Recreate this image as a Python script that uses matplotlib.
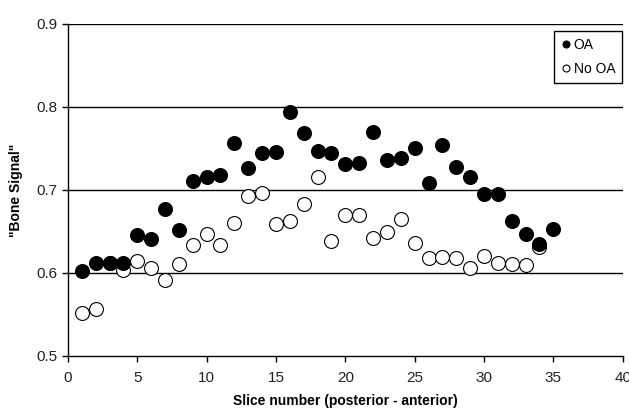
import numpy as np
import matplotlib.pyplot as plt

plt.rcParams['font.family'] = ['Liberation Sans', 'DejaVu Sans']

# slice numbers and bone signal
slice_oa = list(range(1, 36))
oa = [0.602, 0.612, 0.612, 0.612, 0.646, 0.641, 0.677, 0.652, 0.711, 0.715,
      0.718, 0.756, 0.727, 0.744, 0.746, 0.794, 0.769, 0.747, 0.744, 0.731,
      0.732, 0.770, 0.736, 0.738, 0.750, 0.708, 0.754, 0.728, 0.715, 0.695,
      0.695, 0.663, 0.647, 0.635, 0.653]

slice_no = list(range(1, 35))
no_oa = [0.552, 0.556, 0.612, 0.604, 0.614, 0.606, 0.591, 0.611, 0.634, 0.647,
         0.634, 0.660, 0.693, 0.696, 0.659, 0.663, 0.683, 0.716, 0.639, 0.670,
         0.670, 0.642, 0.649, 0.665, 0.636, 0.618, 0.619, 0.618, 0.606, 0.621,
         0.612, 0.611, 0.610, 0.631]

xticks = [0, 5, 10, 15, 20, 25, 30, 35, 40]
yticks = [0.5, 0.6, 0.7, 0.8, 0.9]

fig = plt.figure(figsize=(6.29, 4.12), dpi=100)
ax = fig.add_axes([0.108, 0.136, 0.882, 0.806])

for y in yticks[1:]:
    ax.axhline(y, color='black', lw=1.0, zorder=1)

ax.plot(slice_no, no_oa, 'o', ms=10, mfc='white', mec='black', mew=0.8,
        label='No OA', zorder=2)
ax.plot(slice_oa, oa, 'o', ms=10, mfc='black', mec='black', mew=0.8,
        label='OA', zorder=3)

ax.set_xlim(0, 40)
ax.set_ylim(0.5, 0.9)
ax.set_xticks(xticks)
ax.set_yticks(yticks)
ax.set_yticklabels(['%.1f' % v for v in yticks])
ax.tick_params(axis='both', labelsize=11, direction='out', length=4, width=1,
               colors='black', labelcolor='#222222')
ax.tick_params(axis='x', pad=7)
for s in ['top', 'right']:
    ax.spines[s].set_visible(False)
for s in ['left', 'bottom']:
    ax.spines[s].set_linewidth(1.0)

ax.set_xlabel('Slice number (posterior - anterior)', fontsize=10,
              fontweight='bold', labelpad=6)
ax.set_ylabel('"Bone Signal"', fontsize=10, fontweight='bold', labelpad=10)

h, l = ax.get_legend_handles_labels()
leg = ax.legend(h[::-1], l[::-1], loc='upper right', bbox_to_anchor=(0.9995, 0.979),
                borderaxespad=0, fontsize=10, markerscale=0.5, handlelength=0.6,
                handletextpad=0.3, borderpad=0.5, labelspacing=0.75,
                fancybox=False, framealpha=1, edgecolor='black')
leg.get_frame().set_linewidth(1.0)

fig.savefig('out.png', dpi=100)
